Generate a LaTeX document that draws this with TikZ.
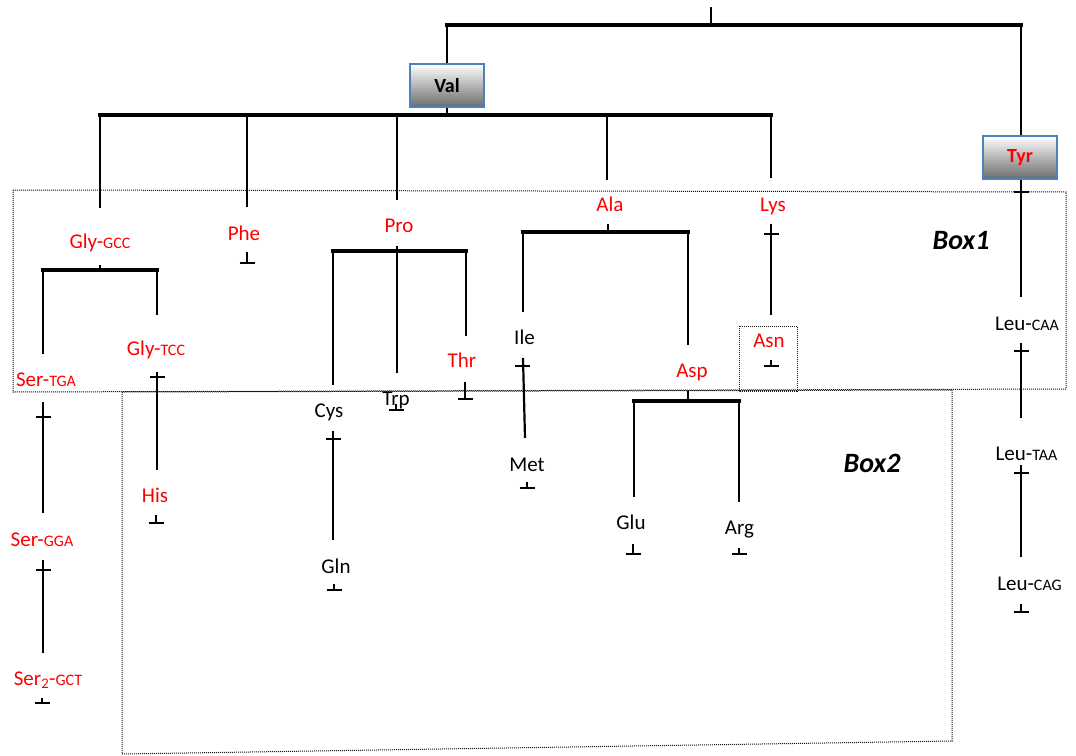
\documentclass[tikz,border=0pt]{standalone}
\usepackage{fontspec}
\setmainfont{Carlito}
\definecolor{boxblue}{RGB}{79,129,189}
\definecolor{lblred}{RGB}{255,0,0}
\newcommand\cdn[1]{{\fontsize{16}{18}\selectfont #1}}
\newcommand\mkcross[4]{\draw[vl] (#1,#2) -- (#1,#4); \draw[tk] ({#1-7.5},#3) -- ({#1+7.5},#3);}
\newcommand\mkperp[3]{\draw[tk] (#1,#2) -- (#1,#3) ({#1-7.5},#3) -- ({#1+7.5},#3);}
\begin{document}
\begin{tikzpicture}[x=1pt,y=-1pt,
  lbl/.style={font=\fontsize{21}{25}\selectfont, inner sep=0pt, anchor=base},
  rl/.style={lbl, text=lblred},
  bar/.style={line width=4pt, line cap=rect},
  vl/.style={line width=2.2pt},
  tk/.style={line width=2pt},
  dotbox/.style={draw=black!90, line width=1pt, dash pattern=on 1pt off 1pt},
  aabox/.style={draw=boxblue, line width=1.6pt, top color=white, bottom color=black!58,
    minimum width=74pt, minimum height=43pt, inner sep=0pt,
    font=\fontsize{20}{24}\selectfont\bfseries},
  boxlbl/.style={font=\fontsize{28}{32}\selectfont\bfseries\itshape, inner sep=0pt, anchor=base}]
\useasboundingbox (0,0) rectangle (1076,755);
\fill[white] (0,0) rectangle (1076,755);

% dotted boxes
\draw[dotbox] (13,190) -- (1066,192) -- (1066,389) -- (13,392) -- cycle;
\draw[dotbox] (122,392) -- (952,390) -- (952,741) -- (122,754) -- cycle;
\draw[dotbox] (739,326) rectangle (797,391);
\node[boxlbl] (box1) at (961,249) {Box1};
\node[boxlbl] (box2) at (872,472) {Box2};

% top level
\coordinate (root) at (711,7);
\coordinate (rootbar) at (711,25);
\coordinate (tbL) at (447,25);
\coordinate (tbR) at (1021,25);
\node[aabox] (val) at (447,85.5) {Val};
\node[aabox, text=lblred] (tyr) at (1020,157.5) {Tyr};
\draw[tk] (root) -- (rootbar);
\draw[bar] (tbL) -- (tbR);
\draw[vl] (tbL) -- (val.north);
\draw[vl] (tbR) -- (tyr.north -| tbR);

% Val level
\coordinate (vbar) at (447,115);
\draw[vl] (val.south) -- (vbar);
\draw[bar] (100,115) -- (771,115);
\draw[vl] (100,115) -- (100,208);
\draw[vl] (247,115) -- (247,207);
\draw[vl] (397,115) -- (397,200);
\draw[vl] (607,115) -- (607,180);
\draw[vl] (771,115) -- (771,178);

% Gly-GCC subtree
\node[rl] (glygcc) at (100,248) {Gly-\cdn{GCC}};
\draw[tk] (100,265) -- (100,270);
\draw[bar] (43,270) -- (157,270);
\draw[vl] (43,270) -- (43,354);
\draw[vl] (157,270) -- (157,315);
\node[rl] (sertga) at (46,386) {Ser-\cdn{TGA}};
\mkcross{43}{402}{417}{513}
\node[rl] (sergga) at (42,546) {Ser-\cdn{GGA}};
\mkcross{43}{560}{570}{653}
\node[rl] (sergct) at (48,685) {Ser\textsubscript{2}-\cdn{GCT}};
\mkperp{42}{698}{703}
\node[rl] (glytcc) at (156,355) {Gly-\cdn{TCC}};
\mkcross{157}{372}{377}{470}
\node[rl] (his) at (155,502) {His};
\mkperp{156}{515}{523}

% Phe
\node[rl] (phe) at (244,240) {Phe};
\mkperp{247}{252}{263}

% Pro subtree
\node[rl] (pro) at (399,232) {Pro};
\draw[bar] (333,251) -- (466,251);
\draw[vl] (397,246) -- (397,373);
\draw[vl] (333,251) -- (333,385);
\draw[vl] (466,251) -- (466,336);
\node[rl] (thr) at (462,367) {Thr};
\mkperp{465}{382}{399}
\node[lbl] (trp) at (396,405) {Trp};
\mkperp{396}{404}{410}
\node[lbl] (cys) at (329,417) {Cys};
\mkcross{333}{431}{439}{540}
\node[lbl] (gln) at (336,573) {Gln};
\mkperp{334}{584}{590}

% Ala subtree
\node[rl] (ala) at (610,211) {Ala};
\draw[tk] (608,224) -- (608,232);
\draw[bar] (523,232) -- (688,232);
\draw[vl] (523,232) -- (523,312);
\draw[vl] (688,232) -- (688,345);
\node[lbl] (ile) at (524.5,344) {Ile};
\draw[vl] (523,358) -- (525,438);
\draw[tk] (515,366) -- (530,366);
\node[lbl] (met) at (527,471) {Met};
\mkperp{527}{482}{488}
\node[rl] (asp) at (692,377) {Asp};
\draw[tk] (688,391) -- (688,401);
\draw[bar] (634,401) -- (739,401);
\draw[vl] (634,401) -- (634,497);
\draw[vl] (739,401) -- (739,502);
\node[lbl] (glu) at (631,529) {Glu};
\mkperp{633}{544}{554}
\node[lbl] (arg) at (739.5,534) {Arg};
\mkperp{739}{548}{554}

% Lys / Asn
\node[rl] (lys) at (773,211) {Lys};
\mkcross{771}{224}{234}{315}
\node[rl] (asn) at (769,347) {Asn};
\mkperp{771}{360}{366}

% Tyr chain
\draw[vl] (tyr.south -| tbR) -- (1021,297);
\draw[tk] (1013.5,192) -- (1028.5,192);
\node[lbl] (leucaa) at (1027,330) {Leu-\cdn{CAA}};
\mkcross{1021}{343}{351}{418}
\node[lbl] (leutaa) at (1026.5,460) {Leu-\cdn{TAA}};
\mkcross{1021}{465}{473}{557}
\node[lbl] (leucag) at (1029.5,590) {Leu-\cdn{CAG}};
\mkperp{1021}{604}{612}
\end{tikzpicture}
\end{document}
